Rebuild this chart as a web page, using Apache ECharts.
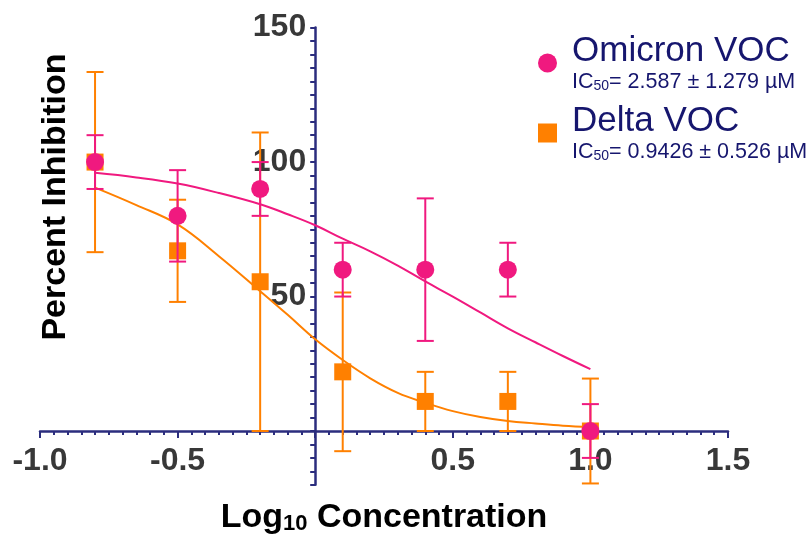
<!DOCTYPE html>
<html>
<head>
<meta charset="utf-8">
<script src="https://cdn.jsdelivr.net/npm/echarts@6/dist/echarts.min.js"></script>
<style>html,body{margin:0;padding:0;background:#fff}#chart{width:808px;height:534px}</style>
</head>
<body>
<div id="chart"></div>
<script>
// ---- data ----
const xValues = [-0.8, -0.5, -0.2, 0.1, 0.4, 0.7, 1.0];
const omicronMean = [100, 80, 90, 60, 60, 60, 0];
const omicronErr = [10, 17, 10, 10, 26.5, 10, 10];
const deltaMean = [100, 67, 55.5, 22, 11, 11, 0];
const deltaErr = [33.5, 19, 55.5, 29.5, 11, 11, 19.5];

const curveX = [-0.8, -0.65, -0.5, -0.35, -0.2, -0.1, 0, 0.1, 0.2, 0.3, 0.4, 0.5, 0.6, 0.7, 0.8, 0.9, 1.0];
const omicronFit = [96, 94.3, 92, 88.5, 84.3, 80.6, 76.5, 71.5, 66.8, 61.5, 55.6, 50, 44.1, 38.2, 33, 27.9, 23];
const deltaFit = [90.5, 84, 76.8, 65, 52, 43.2, 34.1, 26.4, 19.6, 14.2, 10.5, 7.4, 5.2, 3.7, 2.8, 2.0, 1.5];

const xTickLabels = ['-1.0', '-0.5', '0.5', '1.0', '1.5'];
const yTickLabels = ['50', '100', '150'];

const seriesNames = ['Omicron VOC', 'Delta VOC'];
const ic50Texts = ['= 2.587 ± 1.279 µM', '= 0.9426 ± 0.526 µM'];

// ---- layout / styles ----
const PINK = '#F0197F';
const ORANGE = '#FF8000';
const NAVY = '#2B2D7E';
const LEGEND_NAVY = '#16166E';
const FONT = '"Liberation Sans", Arial, Helvetica, sans-serif';

const X_MIN = -1, X_MAX = 1.5, Y_MIN = -20, Y_MAX = 150;
const G_LEFT = 40, G_RIGHT = 80, G_TOP = 27.6, G_BOTTOM = 49.2;
const W = 808, H = 534;
const gridW = W - G_LEFT - G_RIGHT, gridH = H - G_TOP - G_BOTTOM;
// shift axes so they cross at (0, 0)
const xAxisOffset = -((0 - Y_MIN) / (Y_MAX - Y_MIN)) * gridH;
const yAxisOffset = -((0 - X_MIN) / (X_MAX - X_MIN)) * gridW;

const pts = (xs, ys) => xs.map((x, i) => [x, ys[i]]);
const errData = (xs, m, e) => xs.map((x, i) => [x, m[i] - e[i], m[i] + e[i]]);

function errRender(color) {
  return function (params, api) {
    const x = api.value(0), lo = api.value(1), hi = api.value(2);
    const top = api.coord([x, hi]);
    const bot = api.coord([x, lo]);
    const hw = 8.5;
    const st = { stroke: color, lineWidth: 2 };
    return {
      type: 'group',
      children: [
        { type: 'line', shape: { x1: top[0], y1: top[1], x2: bot[0], y2: bot[1] }, style: st },
        { type: 'line', shape: { x1: top[0] - hw, y1: top[1], x2: top[0] + hw, y2: top[1] }, style: st },
        { type: 'line', shape: { x1: bot[0] - hw, y1: bot[1], x2: bot[0] + hw, y2: bot[1] }, style: st }
      ]
    };
  };
}

const chart = echarts.init(document.getElementById('chart'), null, { renderer: 'canvas' });

const legendRich = {
  n: { fontFamily: FONT, fontSize: 35, color: LEGEND_NAVY, lineHeight: 37 },
  b: { fontFamily: FONT, fontSize: 21.5, color: LEGEND_NAVY, lineHeight: 23, verticalAlign: 'bottom' },
  s: { fontFamily: FONT, fontSize: 14, color: LEGEND_NAVY, lineHeight: 8, verticalAlign: 'bottom' }
};

chart.setOption({
  animation: false,
  backgroundColor: '#ffffff',
  grid: { left: G_LEFT, right: G_RIGHT, top: G_TOP, bottom: G_BOTTOM, containLabel: false, outerBoundsMode: 'none' },
  legend: {
    data: seriesNames,
    orient: 'vertical',
    left: 538,
    top: 34,
    padding: 0,
    itemGap: 11,
    itemWidth: 19,
    itemHeight: 19,
    formatter: function (name) {
      const i = seriesNames.indexOf(name);
      return '{n|' + name + '}\n{b|IC}{s|50}{b|' + ic50Texts[i] + '}';
    },
    textStyle: { padding: [0, 0, 0, 10], rich: legendRich }
  },
  xAxis: {
    type: 'value',
    min: X_MIN,
    max: X_MAX,
    interval: 0.5,
    position: 'bottom',
    offset: xAxisOffset,
    name: '{a|Log}{s|10}{a| Concentration}',
    nameLocation: 'middle',
    nameGap: 66,
    nameMoveOverlap: false,
    nameTextStyle: {
      rich: {
        a: { fontFamily: FONT, fontSize: 34, fontWeight: 'bold', color: '#000', lineHeight: 38, verticalAlign: 'bottom' },
        s: { fontFamily: FONT, fontSize: 22, fontWeight: 'bold', color: '#000', lineHeight: 14, verticalAlign: 'bottom' }
      }
    },
    axisLine: { onZero: false, lineStyle: { color: NAVY, width: 2.5 } },
    axisTick: { show: true, length: 7, lineStyle: { color: NAVY, width: 2 } },
    minorTick: { show: true, splitNumber: 10, length: 4, lineStyle: { color: NAVY, width: 2 } },
    axisLabel: {
      margin: 14,
      fontFamily: FONT,
      fontSize: 32,
      fontWeight: 'bold',
      color: '#383838',
      formatter: function (v) {
        const s = v.toFixed(1);
        return xTickLabels.indexOf(s) >= 0 ? s : '';
      }
    },
    splitLine: { show: false },
    minorSplitLine: { show: false }
  },
  yAxis: {
    type: 'value',
    min: Y_MIN,
    max: Y_MAX,
    interval: 5,
    position: 'left',
    offset: yAxisOffset,
    axisLine: { onZero: false, lineStyle: { color: NAVY, width: 2.5 } },
    axisTick: { show: true, length: 5, lineStyle: { color: NAVY, width: 2 } },
    axisLabel: {
      interval: 0,
      margin: 9,
      fontFamily: FONT,
      fontSize: 32,
      fontWeight: 'bold',
      color: '#383838',
      formatter: function (v) {
        const s = String(v);
        return yTickLabels.indexOf(s) >= 0 ? s : '';
      }
    },
    splitLine: { show: false }
  },
  graphic: [{
    type: 'text',
    x: 56,
    y: 197,
    rotation: Math.PI / 2,
    style: {
      text: 'Percent Inhibition',
      fontFamily: FONT,
      fontSize: 34,
      fontWeight: 'bold',
      fill: '#000',
      textAlign: 'center',
      textVerticalAlign: 'middle'
    }
  }],
  series: [
    {
      name: 'Delta VOC err', type: 'custom', renderItem: errRender(ORANGE),
      data: errData(xValues, deltaMean, deltaErr), encode: { x: 0, y: [1, 2] }, z: 2, silent: true
    },
    {
      name: 'Delta VOC fit', type: 'line', data: pts(curveX, deltaFit), smooth: 0.4,
      showSymbol: false, lineStyle: { color: ORANGE, width: 2 }, z: 3, silent: true
    },
    {
      name: 'Delta VOC', type: 'scatter', data: pts(xValues, deltaMean), symbol: 'rect', symbolSize: 17,
      itemStyle: { color: ORANGE, opacity: 1 }, z: 4
    },
    {
      name: 'Omicron VOC err', type: 'custom', renderItem: errRender(PINK),
      data: errData(xValues, omicronMean, omicronErr), encode: { x: 0, y: [1, 2] }, z: 5, silent: true
    },
    {
      name: 'Omicron VOC fit', type: 'line', data: pts(curveX, omicronFit), smooth: 0.4,
      showSymbol: false, lineStyle: { color: PINK, width: 2 }, z: 6, silent: true
    },
    {
      name: 'Omicron VOC', type: 'scatter', data: pts(xValues, omicronMean), symbol: 'circle', symbolSize: 18,
      itemStyle: { color: PINK, opacity: 1 }, z: 7
    }
  ]
});
</script>
</body>
</html>
